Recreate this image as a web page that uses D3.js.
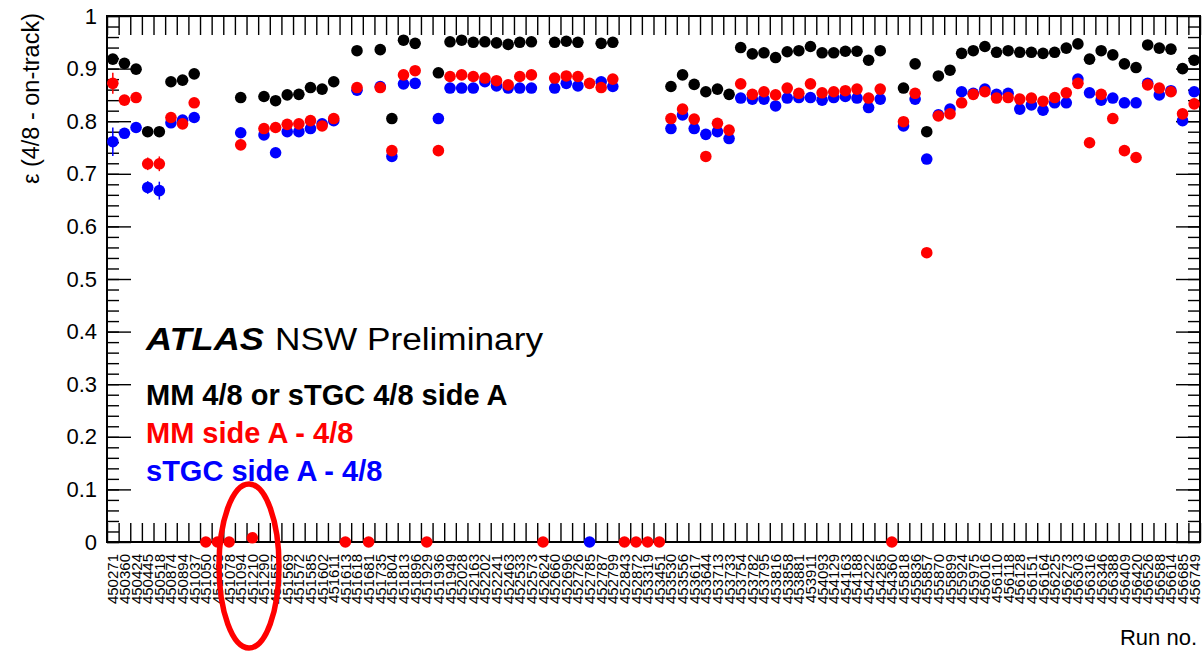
<!DOCTYPE html>
<meta charset="utf-8">
<script src="https://d3js.org/d3.v7.min.js"></script>
<html>
<head>
<style>
body { margin: 0; background: #fff; }
svg { font-family: "Liberation Sans", Arial, Helvetica, sans-serif; }
</style>
</head>
<body>
<svg id="chart" width="1203" height="652"></svg>

<script>

// run numbers (x categories)
var runs = [
  "450271","450360","450424","450445","450518","450874","450894","451037","451050","451063",
  "451078","451094","451210","451290","451557","451569","451572","451585","451602","451611",
  "451613","451618","451681","451735","451804","451813","451896","451929","451936","451949",
  "452028","452163","452202","452241","452463","452533","452573","452624","452660","452696",
  "452726","452785","452787","452799","452843","452872","453319","453451","453530","453556",
  "453617","453644","453713","453733","453754","453782","453795","453816","453858","453881",
  "453911","454093","454129","454163","454188","454222","454285","454360","455818","455836",
  "455857","455870","455899","455924","455975","456016","456110","456118","456128","456151",
  "456164","456225","456273","456303","456316","456346","456388","456409","456420","456526",
  "456588","456614","456685","456749"
];

// MM 4/8 or sTGC 4/8 side A
var effOr = [
  0.918,0.910,0.899,0.780,0.780,0.875,0.878,0.890,null,null,
  null,0.845,null,0.847,0.839,0.850,0.851,0.864,0.861,0.875,
  null,0.934,null,0.936,0.805,0.954,0.948,null,0.892,0.951,
  0.954,0.950,0.951,0.949,0.946,0.950,0.951,null,0.950,0.952,
  0.950,null,0.948,0.950,null,null,null,null,0.866,0.888,
  0.870,0.856,0.861,0.851,0.940,0.928,0.930,0.921,0.932,0.934,
  0.942,0.930,0.930,0.933,0.933,0.916,0.934,null,0.863,0.909,
  0.780,0.886,0.897,0.929,0.934,0.942,0.931,0.934,0.931,0.931,
  0.929,0.931,0.939,0.947,0.918,0.934,0.926,0.909,0.902,0.945,
  0.939,0.937,0.900,0.916
];

// MM side A - 4/8
var effMM = [
  0.872,0.840,0.845,0.719,0.719,0.807,0.795,0.835,0,0,
  0,0.755,0.008,0.786,0.788,0.794,0.795,0.801,0.791,0.805,
  0,0.864,0,0.864,0.744,0.888,0.896,0,0.744,0.885,
  0.888,0.885,0.882,0.877,0.869,0.885,0.888,0,0.882,0.886,
  0.885,0.872,0.864,0.880,0,0,0,0,0.805,0.823,
  0.804,0.733,0.796,0.783,0.871,0.851,0.856,0.850,0.863,0.853,
  0.871,0.854,0.856,0.858,0.861,0.844,0.861,0,0.799,0.853,
  0.550,0.810,0.814,0.835,0.851,0.856,0.844,0.845,0.842,0.844,
  0.838,0.845,0.854,0.872,0.759,0.851,0.805,0.744,0.731,0.869,
  0.863,0.856,0.814,0.833
];

// sTGC side A - 4/8
var effTGC = [
  0.761,0.777,0.788,0.674,0.668,0.797,0.802,0.807,null,null,
  null,0.778,null,0.774,0.740,0.780,0.780,0.786,0.795,0.801,
  null,0.859,null,0.866,0.733,0.871,0.872,null,0.805,0.863,
  0.863,0.863,0.875,0.867,0.863,0.863,0.863,null,0.863,0.872,
  0.867,0,0.875,0.866,null,null,null,null,0.786,0.812,
  0.786,0.775,0.780,0.767,0.844,0.842,0.842,0.829,0.844,0.845,
  0.845,0.840,0.845,0.847,0.844,0.826,0.842,null,0.791,0.842,
  0.728,0.812,0.823,0.856,0.853,0.861,0.851,0.853,0.823,0.831,
  0.821,0.835,0.835,0.880,0.854,0.840,0.844,0.835,0.835,0.872,
  0.850,0.858,0.801,0.856
];

// visible statistical errors (bin index, MM error, sTGC error)
var errBins = [0, 3, 4];
var errMM   = [0.020, 0.012, 0.014];
var errTGC  = [0.027, 0.012, 0.017];

var legendLines = ["MM 4/8 or sTGC 4/8 side A", "MM side A - 4/8", "sTGC side A - 4/8"];
var legendColors = ["#000000", "#ff0000", "#0000ff"];

var yMajor = d3.range(0, 1.0001, 0.1);
var yMinor = d3.range(0, 1.0001, 0.02);

var svg = d3.select("#chart");
var padL = 107, padR = 1200, padT = 16, padB = 542;

var x = d3.scaleBand().domain(runs).range([padL, padR]).padding(0);
var xe = d3.scaleLinear().domain([0, runs.length]).range([padL, padR]);
var y = d3.scaleLinear().domain([0, 1]).range([padB, padT]);
var bw = x.bandwidth();

// axes: ticks pointing inwards like ROOT
var gAx = svg.append("g");

gAx.append("g")
  .attr("transform", "translate(" + padL + ",0)")
  .call(d3.axisLeft(y).tickValues(yMinor).tickSize(-12).tickFormat(""));
gAx.append("g")
  .attr("transform", "translate(" + padL + ",0)")
  .call(d3.axisLeft(y).tickValues(yMajor).tickSize(-24).tickPadding(10)
    .tickFormat(function(d){ return d < 0.001 ? "0" : (d > 0.999 ? "1" : d3.format(".1f")(d)); }));
gAx.append("g")
  .attr("transform", "translate(" + padR + ",0)")
  .call(d3.axisRight(y).tickValues(yMinor).tickSize(-12).tickFormat(""));
gAx.append("g")
  .attr("transform", "translate(" + padR + ",0)")
  .call(d3.axisRight(y).tickValues(yMajor).tickSize(-24).tickFormat(""));
gAx.append("g")
  .attr("transform", "translate(0," + padT + ")")
  .call(d3.axisTop(xe).tickValues(d3.range(runs.length + 1)).tickSize(-19).tickFormat(""));
gAx.append("g")
  .attr("transform", "translate(0," + padB + ")")
  .call(d3.axisBottom(xe).tickValues(d3.range(runs.length + 1)).tickSize(-19).tickFormat(""));

gAx.selectAll(".domain").remove();
gAx.selectAll(".tick line").attr("stroke", "#000").attr("stroke-width", 1.4);
gAx.selectAll(".tick text").attr("font-size", 22).attr("fill", "#000")
  .attr("font-family", "'Liberation Sans', Arial, sans-serif");

svg.append("rect")
  .attr("x", padL).attr("y", padT)
  .attr("width", padR - padL).attr("height", padB - padT)
  .attr("fill", "none").attr("stroke", "#000").attr("stroke-width", 2);

// run labels, vertical
svg.append("g").selectAll("text")
  .data(runs)
  .enter().append("text")
    .attr("transform", function(d){ return "translate(" + (x(d) + bw / 2 + 5.5) + ",554) rotate(-90)"; })
    .attr("text-anchor", "end")
    .attr("font-size", 15)
    .attr("fill", "#000")
    .text(function(d){ return d; });

// error bars
function drawErr(vals, errs, color) {
  svg.append("g").selectAll("line")
    .data(errBins.map(function(b, i){ return {b: b, v: vals[b], e: errs[i]}; }))
    .enter().append("line")
      .attr("x1", function(d){ return x(runs[d.b]) + bw / 2; })
      .attr("x2", function(d){ return x(runs[d.b]) + bw / 2; })
      .attr("y1", function(d){ return y(d.v - d.e); })
      .attr("y2", function(d){ return y(d.v + d.e); })
      .attr("stroke", color).attr("stroke-width", 1.5);
}

function drawPoints(vals, color) {
  svg.append("g").selectAll("circle")
    .data(runs.map(function(r, i){ return {r: r, v: vals[i]}; }).filter(function(d){ return d.v !== null; }))
    .enter().append("circle")
      .attr("cx", function(d){ return x(d.r) + bw / 2; })
      .attr("cy", function(d){ return y(d.v); })
      .attr("r", 5.8)
      .attr("fill", color);
}

drawPoints(effOr, "#000000");
drawErr(effTGC, errTGC, "#0000ff");
drawPoints(effTGC, "#0000ff");
drawErr(effMM, errMM, "#ff0000");
drawPoints(effMM, "#ff0000");

// y title
svg.append("text")
  .attr("transform", "translate(39,13) rotate(-90)")
  .attr("text-anchor", "end")
  .attr("font-size", 23.5)
  .text("\u03b5 (4/8 - on-track)");

// x title
svg.append("text")
  .attr("x", 1197).attr("y", 645)
  .attr("text-anchor", "end")
  .attr("font-size", 22)
  .text("Run no.");

// ATLAS label
svg.append("text")
  .attr("x", 146).attr("y", 350)
  .attr("font-size", 31).attr("font-weight", "bold").attr("font-style", "italic")
  .attr("textLength", 118).attr("lengthAdjust", "spacingAndGlyphs")
  .text("ATLAS");
svg.append("text")
  .attr("x", 275).attr("y", 350)
  .attr("font-size", 31)
  .attr("textLength", 268).attr("lengthAdjust", "spacingAndGlyphs")
  .text("NSW Preliminary");

// legend text
svg.append("g").selectAll("text")
  .data(legendLines)
  .enter().append("text")
    .attr("x", 146)
    .attr("y", function(d, i){ return 405 + i * 38; })
    .attr("font-size", 29)
    .attr("font-weight", "bold")
    .attr("fill", function(d, i){ return legendColors[i]; })
    .text(function(d){ return d; });

// red highlight ellipse
svg.append("ellipse")
  .attr("cx", 249).attr("cy", 566)
  .attr("rx", 30).attr("ry", 82)
  .attr("fill", "none")
  .attr("stroke", "#ff0000")
  .attr("stroke-width", 5.5);

</script>
</body>
</html>
